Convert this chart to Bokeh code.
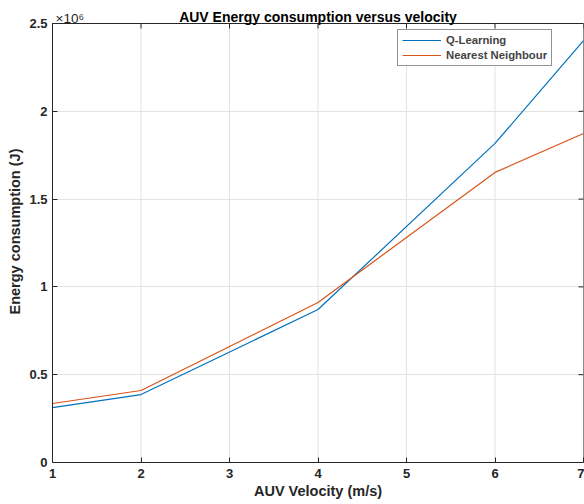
import math
from bokeh.plotting import figure
from bokeh.models import Range1d, FixedTicker, Label, Legend, LegendItem
from bokeh.embed import file_html
from bokeh.resources import INLINE

velocity = [1, 2, 4, 6, 7]
q_learning = [313000, 387000, 871000, 1817000, 2403000]
nearest_neighbour = [336000, 410000, 911000, 1652000, 1874000]
x_ticks = [1, 2, 3, 4, 5, 6, 7]
y_ticks = [0, 500000, 1000000, 1500000, 2000000, 2500000]
y_tick_labels = ["0", "0.5", "1", "1.5", "2", "2.5"]
X_MIN, X_MAX = 1, 7
Y_MIN, Y_MAX = 0, 2500000

FONT = "Liberation Sans"
AX = "#262626"
FRAME_W, FRAME_H, TOP_PAD = 531, 462, 23
# the frame reaches up to the canvas top so that the title texts can sit inside it
Y_TOP = Y_MIN + (Y_MAX - Y_MIN) * FRAME_H / (FRAME_H - TOP_PAD)

p = figure(frame_width=FRAME_W, frame_height=FRAME_H, output_backend="svg", toolbar_location=None,
           title=None, x_range=Range1d(X_MIN, X_MAX), y_range=Range1d(Y_MIN, Y_TOP),
           min_border_left=52, min_border_right=1, min_border_top=0, min_border_bottom=42)
p.outline_line_color = None

for ax in (p.xaxis[0], p.yaxis[0]):
    ax.major_tick_in = 5
    ax.major_tick_out = 0
    ax.minor_tick_in = 0
    ax.minor_tick_out = 0
    ax.axis_line_color = AX
    ax.major_tick_line_color = AX
    ax.major_label_text_font = FONT
    ax.major_label_text_font_style = "bold"
    ax.major_label_text_font_size = "13px"
    ax.major_label_text_color = AX
    ax.axis_label_text_font = FONT
    ax.axis_label_text_font_style = "bold"
    ax.axis_label_text_font_size = "14.5px"
    ax.axis_label_text_color = AX

p.xaxis[0].ticker = FixedTicker(ticks=x_ticks)
p.yaxis[0].ticker = FixedTicker(ticks=y_ticks)
p.yaxis[0].bounds = (Y_MIN, Y_MAX)
p.yaxis[0].major_label_overrides = {t: l for t, l in zip(y_ticks, y_tick_labels)}
p.xaxis[0].axis_label = "AUV Velocity (m/s)"
p.yaxis[0].axis_label = "Energy consumption (J)"
p.xaxis[0].axis_label_standoff = 2
p.yaxis[0].axis_label_standoff = 3
p.xaxis[0].major_label_standoff = 6
p.yaxis[0].major_label_standoff = 5

# grid
p.xgrid.visible = False
p.ygrid.ticker = FixedTicker(ticks=y_ticks)
p.ygrid.grid_line_color = "#e3e3e3"
p.segment(x0=x_ticks, y0=[Y_MIN] * len(x_ticks), x1=x_ticks, y1=[Y_MAX] * len(x_ticks),
          line_color="#e3e3e3", line_width=1)

# axes box and inward ticks on the top and right edges
p.quad(left=[X_MIN], right=[X_MAX], bottom=[Y_MIN], top=[Y_MAX],
       fill_color=None, line_color=AX, line_width=1)
p.ray(x=x_ticks, y=[Y_MAX] * len(x_ticks), length=5, length_units="screen",
      angle=-math.pi / 2, line_color=AX, line_width=1)
p.ray(x=[X_MAX] * len(y_ticks), y=y_ticks, length=5, length_units="screen",
      angle=math.pi, line_color=AX, line_width=1)

r1 = p.line(velocity, q_learning, line_color="#0072BD", line_width=1.2)
r2 = p.line(velocity, nearest_neighbour, line_color="#D95319", line_width=1.2)

legend = Legend(items=[LegendItem(label="Q-Learning", renderers=[r1]),
                       LegendItem(label="Nearest Neighbour", renderers=[r2])],
                location=(345, 396))
legend.label_text_font = FONT
legend.label_text_font_style = "bold"
legend.label_text_font_size = "11.3px"
legend.label_height = 12
legend.glyph_height = 12
legend.glyph_width = 39
legend.spacing = 3
legend.padding = 4
legend.margin = 0
legend.label_standoff = 5
legend.border_line_color = AX
legend.border_line_width = 1
p.add_layout(legend)

title = Label(x=(X_MIN + X_MAX) / 2, y=Y_MAX, text="AUV Energy consumption versus velocity",
              y_offset=7, text_align="center", text_baseline="alphabetic",
              text_font=FONT, text_font_size="14px", text_font_style="bold", text_color="#000000")
p.add_layout(title)

exp = Label(x=X_MIN, y=Y_MAX, text="×10⁶", x_offset=3, y_offset=5, text_baseline="alphabetic",
            text_font=FONT, text_font_size="13.5px", text_color=AX)
p.add_layout(exp)

open("out.html", "w").write(file_html(p, INLINE))
